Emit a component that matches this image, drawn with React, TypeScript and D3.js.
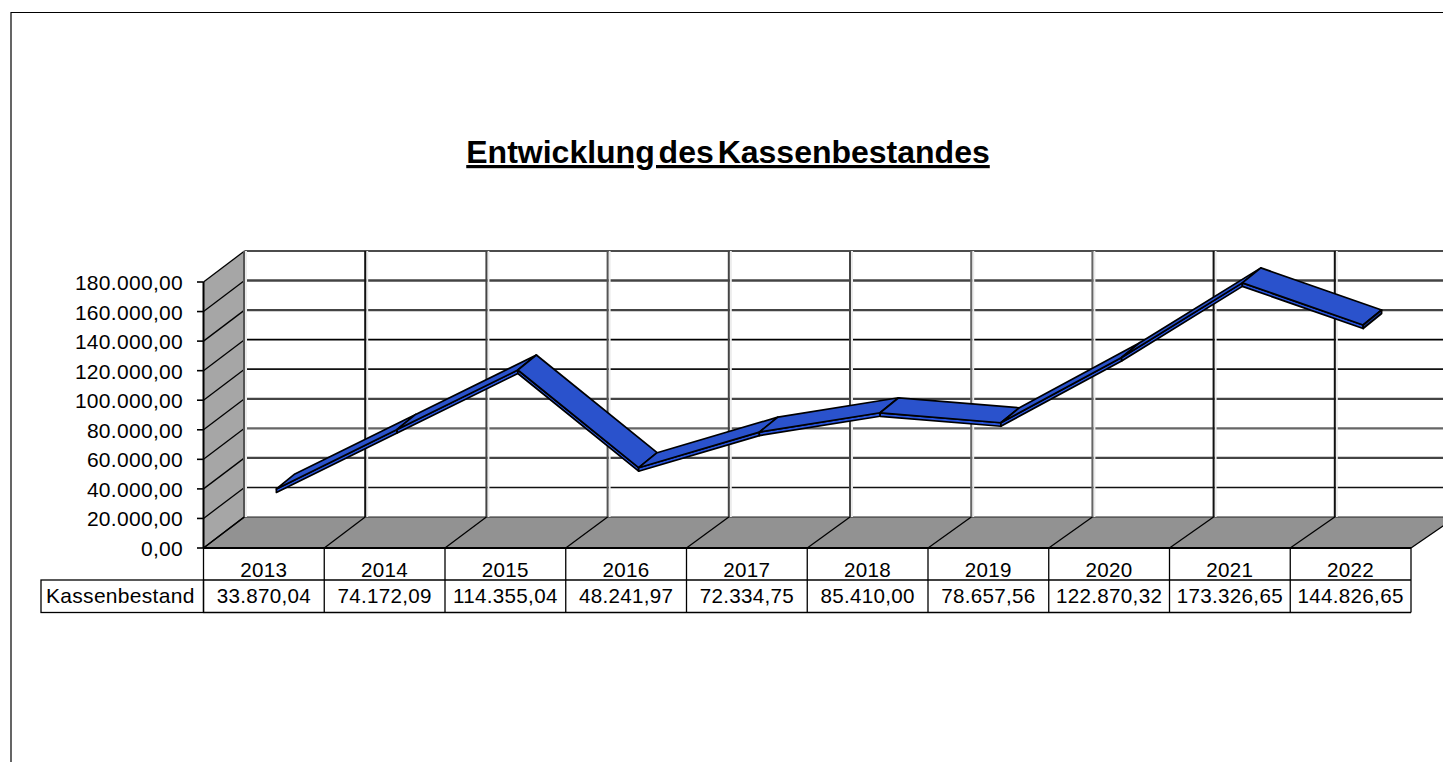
import React from "react";
import * as d3 from "d3";

const years = ["2013","2014","2015","2016","2017","2018","2019","2020","2021","2022"];
const cash = [33870.04,74172.09,114355.04,48241.97,72334.75,85410.0,78657.56,122870.32,173326.65,144826.65];
const ticks = [0,20000,40000,60000,80000,100000,120000,140000,160000,180000];
const gridStroke = ["#222","#111","#444","#666","#444","#111","#000","#444","#444","#111"];
const gridWidth = [1.2,1.4,2.4,2.4,2.2,1.8,1.8,2.4,2.4,1.3];
const vertStroke = ["#555","#111","#444","#555","#444","#444","#666","#666","#111","#111"];
const seriesName = "Kassenbestand";
const title = "Entwicklung des Kassenbestandes";

const FONT = "'Liberation Sans', Arial, sans-serif";
const de = d3.formatLocale({decimal:",",thousands:".",grouping:[3],currency:["","€"]});
const fmt = de.format(",.2f");

const DX = 41, DY = -31;
const x = d3.scaleBand<string>().domain(years).range([203.5, 1411]);
const xBack = d3.scaleBand<string>().domain(years).range([244, 1456]);
const y = d3.scaleLinear().domain([0, 180000]).range([548, 282]);
const cx = (i: number) => x(years[i])! + x.bandwidth() / 2;

const F = { dx: 12.5, dy: -9 };
const B = { dx: 31, dy: -24 };
const T = 3.5;
const TXT = { fontFamily: FONT, fontSize: 21, letterSpacing: 0.3, fill: "#000" };
const CELL = { ...TXT, fontSize: 20.6, letterSpacing: 0.3 };

export default function App() {
  const line = d3.line();
  const pairs = d3.pairs(d3.range(years.length));
  return (
    <svg width={1443} height={762} style={{position:"absolute",left:0,top:0,display:"block",background:"#fff"}}>
      <path d="M11 762V12.5H1443" fill="none" stroke="#000" strokeWidth={1.2}/>
      <text x={728} y={163} textAnchor="middle" fontFamily={FONT} fontWeight={700} fontSize={32} textDecoration="underline" wordSpacing={-5} fill="#000">{title}</text>

      <polygon points={`203.5,548 ${203.5+DX},${548+DY} ${203.5+DX},${282+DY} 203.5,282`} fill="#a6a6a6"/>
      <polygon points={`203.5,548 ${203.5+DX},${548+DY} 1456,${548+DY} 1411,548`} fill="#929292"/>

      {ticks.map((t,i)=>(
        <g key={t}>
          <line x1={203.5+DX} x2={1443} y1={y(t)+DY} y2={y(t)+DY} stroke={gridStroke[i]} strokeWidth={gridWidth[i]}/>
          <line x1={197} x2={203.5} y1={y(t)} y2={y(t)} stroke="#000" strokeWidth={1.6}/>
          <line x1={203.5} x2={203.5+DX} y1={y(t)} y2={y(t)+DY} stroke="#000" strokeWidth={1.3}/>
          <text x={183} y={y(t)+8} textAnchor="end" {...TXT}>{fmt(t)}</text>
        </g>
      ))}
      {years.map((yr,i)=>(
        <g key={yr}>
          <rect x={xBack(yr)!+1} y={251} width={2} height={266} fill="#ececec"/>
          <line x1={xBack(yr)!} x2={xBack(yr)!} y1={251} y2={517} stroke={vertStroke[i]} strokeWidth={2}/>
          <line x1={x(yr)!} x2={xBack(yr)!} y1={548} y2={517} stroke="#000" strokeWidth={1.3}/>
        </g>
      ))}
      <line x1={1411} x2={1456} y1={548} y2={517} stroke="#000" strokeWidth={1.3}/>
      <line x1={203.5} x2={203.5} y1={282} y2={548} stroke="#000" strokeWidth={2}/>

      {pairs.map(([a,b])=>{
        const p0 = [cx(a), y(cash[a])], p1 = [cx(b), y(cash[b])];
        const top: [number,number][] = [
          [p0[0]+F.dx,p0[1]+F.dy],[p1[0]+F.dx,p1[1]+F.dy],
          [p1[0]+B.dx,p1[1]+B.dy],[p0[0]+B.dx,p0[1]+B.dy]];
        const front: [number,number][] = [
          [p0[0]+F.dx,p0[1]+F.dy],[p1[0]+F.dx,p1[1]+F.dy],
          [p1[0]+F.dx,p1[1]+F.dy+T],[p0[0]+F.dx,p0[1]+F.dy+T]];
        return (
          <g key={a} stroke="#000" strokeWidth={1.7} strokeLinejoin="round">
            <path d={line(front)!+"Z"} fill="#2a56e0"/>
            <path d={line(top)!+"Z"} fill="#2a52cc"/>
          </g>
        );
      })}
      {(()=>{
        const n = years.length-1, p=[cx(n),y(cash[n])];
        const end: [number,number][] = [[p[0]+F.dx,p[1]+F.dy],[p[0]+B.dx,p[1]+B.dy],[p[0]+B.dx,p[1]+B.dy+T],[p[0]+F.dx,p[1]+F.dy+T]];
        return <path d={line(end)!+"Z"} fill="#1d3a96" stroke="#000" strokeWidth={1.7} strokeLinejoin="round"/>;
      })()}

      <rect x={41} y={580} width={162.5} height={32.5} fill="#fff" stroke="#000" strokeWidth={1.3}/>
      <text x={46} y={603} {...TXT}>{seriesName}</text>
      <line x1={203.5} x2={1411} y1={548} y2={548} stroke="#000" strokeWidth={2.2}/>
      <line x1={203.5} x2={1411} y1={580} y2={580} stroke="#000" strokeWidth={1.3}/>
      <line x1={203.5} x2={1411} y1={612.5} y2={612.5} stroke="#000" strokeWidth={1.3}/>
      {years.map((yr,i)=>(
        <g key={yr}>
          <line x1={x(yr)!} x2={x(yr)!} y1={548} y2={612.5} stroke="#000" strokeWidth={1.3}/>
          <text x={cx(i)} y={577} textAnchor="middle" {...CELL}>{yr}</text>
          <text x={cx(i)} y={603} textAnchor="middle" {...CELL}>{fmt(cash[i])}</text>
        </g>
      ))}
      <line x1={1411} x2={1411} y1={548} y2={612.5} stroke="#000" strokeWidth={1.3}/>
    </svg>
  );
}
